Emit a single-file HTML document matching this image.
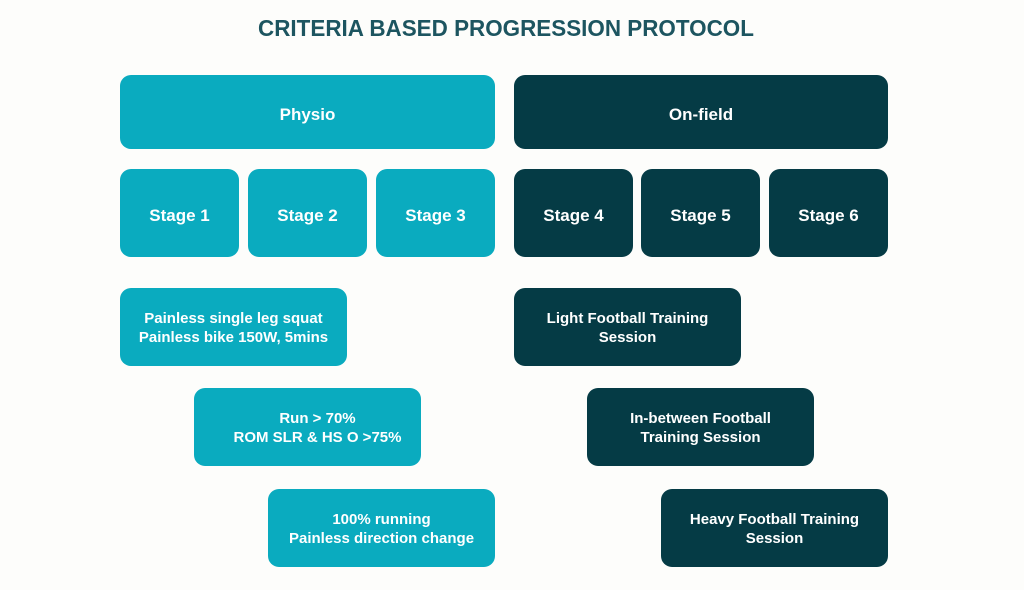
<!DOCTYPE html>
<html><head><style>
body{margin:0;width:1024px;height:590px;background:#fdfdfb;position:relative;overflow:hidden;font-family:"Liberation Sans",sans-serif}
.t{position:absolute;left:0;width:1012px;top:15px;text-align:center;font-weight:bold;font-size:23px;color:#1d5560;transform:scaleX(0.975)}
.b{position:absolute;border-radius:11px;color:#fff;font-weight:bold;display:flex;align-items:center;justify-content:center;text-align:center;font-size:17px;line-height:20px;box-sizing:border-box}
.c{background:#0aabbf}.d{background:#053b45}
.h{padding-top:6px}
.s{font-size:15px;line-height:19px;padding-top:2px}
</style></head><body>
<div class="t">CRITERIA BASED PROGRESSION PROTOCOL</div>
<div class="b c h" style="left:120px;top:75px;width:375px;height:74px">Physio</div>
<div class="b d h" style="left:514px;top:75px;width:374px;height:74px">On-field</div>
<div class="b c h" style="left:120px;top:169px;width:119px;height:88px">Stage 1</div>
<div class="b c h" style="left:248px;top:169px;width:119px;height:88px">Stage 2</div>
<div class="b c h" style="left:376px;top:169px;width:119px;height:88px">Stage 3</div>
<div class="b d h" style="left:514px;top:169px;width:119px;height:88px">Stage 4</div>
<div class="b d h" style="left:641px;top:169px;width:119px;height:88px">Stage 5</div>
<div class="b d h" style="left:769px;top:169px;width:119px;height:88px">Stage 6</div>
<div class="b c s" style="left:120px;top:288px;width:227px;height:78px">Painless single leg squat<br>Painless bike 150W, 5mins</div>
<div class="b c s" style="left:194px;top:388px;width:227px;height:78px;padding-left:20px">Run &gt; 70%<br>ROM SLR &amp; HS O &gt;75%</div>
<div class="b c s" style="left:268px;top:489px;width:227px;height:78px">100% running<br>Painless direction change</div>
<div class="b d s" style="left:514px;top:288px;width:227px;height:78px">Light Football Training<br>Session</div>
<div class="b d s" style="left:587px;top:388px;width:227px;height:78px">In-between Football<br>Training Session</div>
<div class="b d s" style="left:661px;top:489px;width:227px;height:78px">Heavy Football Training<br>Session</div>
</body></html>
